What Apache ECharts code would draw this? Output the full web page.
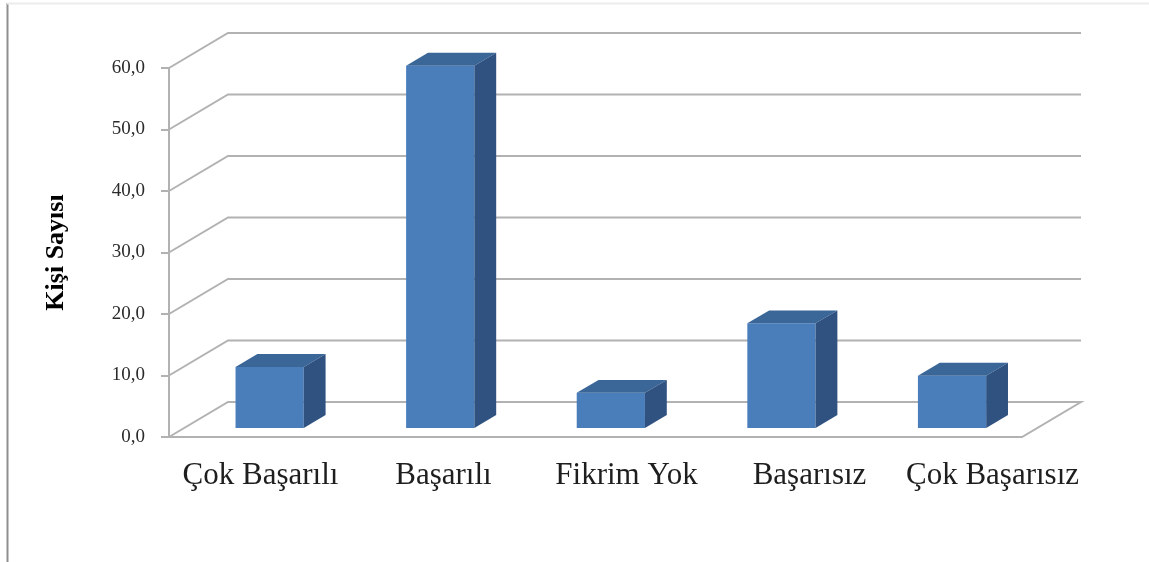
<!DOCTYPE html>
<html>
<head>
<meta charset="utf-8">
<script src="https://cdn.jsdelivr.net/npm/echarts@6/dist/echarts.min.js"></script>
<style>
  html,body{margin:0;padding:0;background:#fff;}
  #main{width:1149px;height:562px;}
</style>
</head>
<body>
<div id="main"></div>
<script>
var categories = ['Çok Başarılı', 'Başarılı', 'Fikrim Yok', 'Başarısız', 'Çok Başarısız'];
var values = [9.9, 58.9, 5.7, 17.0, 8.5];
var yTicks = [0, 10, 20, 30, 40, 50, 60];

// depth of the 3d box in pixels
var DX = 59, DY = -35;
var lineColor = '#b2b2b2';

var chart = echarts.init(document.getElementById('main'));

function renderWall(params, api) {
  var cs = params.coordSys;
  var x0 = cs.x, x1 = cs.x + cs.width;
  var y = api.coord([0, api.value(1)])[1];
  var pts = [[x0, y], [x0 + DX, y + DY], [x1 + DX, y + DY]];
  if (api.value(1) === 0) {
    pts.push([x1, y], [x0, y]);
  }
  return {
    type: 'polyline',
    shape: { points: pts },
    style: { stroke: lineColor, lineWidth: 2, fill: null }
  };
}

function renderBar(params, api) {
  var idx = api.value(0), v = api.value(1);
  var base = api.coord([idx, 0]);
  var top = api.coord([idx, v]);
  var w = api.size([1, 0])[0] * 0.4;
  var f1 = 0.26, f2 = 0.63;
  var fx = base[0] - w / 2 + f1 * DX, fy = f1 * DY;
  var bx = (f2 - f1) * DX, by = (f2 - f1) * DY;
  var yt = top[1] + fy, yb = base[1] + fy;
  return {
    type: 'group',
    children: [
      {
        type: 'rect',
        shape: { x: fx, y: yt, width: w, height: yb - yt },
        style: { fill: '#4a7ebb' }
      },
      {
        type: 'polygon',
        shape: { points: [[fx, yt], [fx + w, yt], [fx + w + bx, yt + by], [fx + bx, yt + by]] },
        style: { fill: '#3b6698' }
      },
      {
        type: 'polygon',
        shape: { points: [[fx + w, yt], [fx + w, yb], [fx + w + bx, yb + by], [fx + w + bx, yt + by]] },
        style: { fill: '#2f5281' }
      }
    ]
  };
}

var option = {
  animation: false,
  backgroundColor: '#fff',
  grid: [
    { left: 169, top: 68, width: 853, height: 369 },
    { left: 169, top: 68, width: 915, height: 369 }
  ],
  xAxis: [
    { type: 'category', gridIndex: 0, data: categories, show: false },
    {
      type: 'category', gridIndex: 1, data: categories,
      axisLine: { show: false }, axisTick: { show: false },
      axisLabel: {
        interval: 0, margin: 23, fontSize: 31,
        fontFamily: 'Liberation Serif', color: '#1e1e1e'
      }
    }
  ],
  yAxis: [
    {
      type: 'value', gridIndex: 0, min: 0, max: 60, interval: 10,
      name: 'Kişi Sayısı', nameLocation: 'middle', nameRotate: 90, nameGap: 100,
      nameTextStyle: { fontSize: 26, fontWeight: 'bold', fontFamily: 'Liberation Serif', color: '#000' },
      axisLine: { show: true, lineStyle: { color: lineColor, width: 2 } },
      axisTick: { show: true, length: 8, lineStyle: { color: lineColor, width: 2 } },
      splitLine: { show: false },
      axisLabel: {
        margin: 24, fontSize: 19, fontFamily: 'Liberation Serif', color: '#2a2a2a',
        formatter: function (v) { return v.toFixed(1).replace('.', ','); }
      }
    },
    { type: 'value', gridIndex: 1, min: 0, max: 60, show: false }
  ],
  graphic: [
    { type: 'line', shape: { x1: 7.5, y1: 3, x2: 7.5, y2: 562 }, style: { stroke: '#8f8f8f', lineWidth: 2 } },
    { type: 'line', shape: { x1: 7, y1: 3.5, x2: 1149, y2: 3.5 }, style: { stroke: '#ececec', lineWidth: 2 } }
  ],
  series: [
    {
      type: 'custom', name: 'walls', xAxisIndex: 0, yAxisIndex: 0, z: 1,
      renderItem: renderWall,
      encode: { x: 0, y: 1 },
      data: yTicks.map(function (v) { return [0, v]; })
    },
    {
      type: 'custom', name: 'Kişi Sayısı', xAxisIndex: 0, yAxisIndex: 0, z: 2,
      renderItem: renderBar,
      encode: { x: 0, y: 1 },
      data: values.map(function (v, i) { return [i, v]; })
    }
  ]
};

chart.setOption(option);
</script>
</body>
</html>
